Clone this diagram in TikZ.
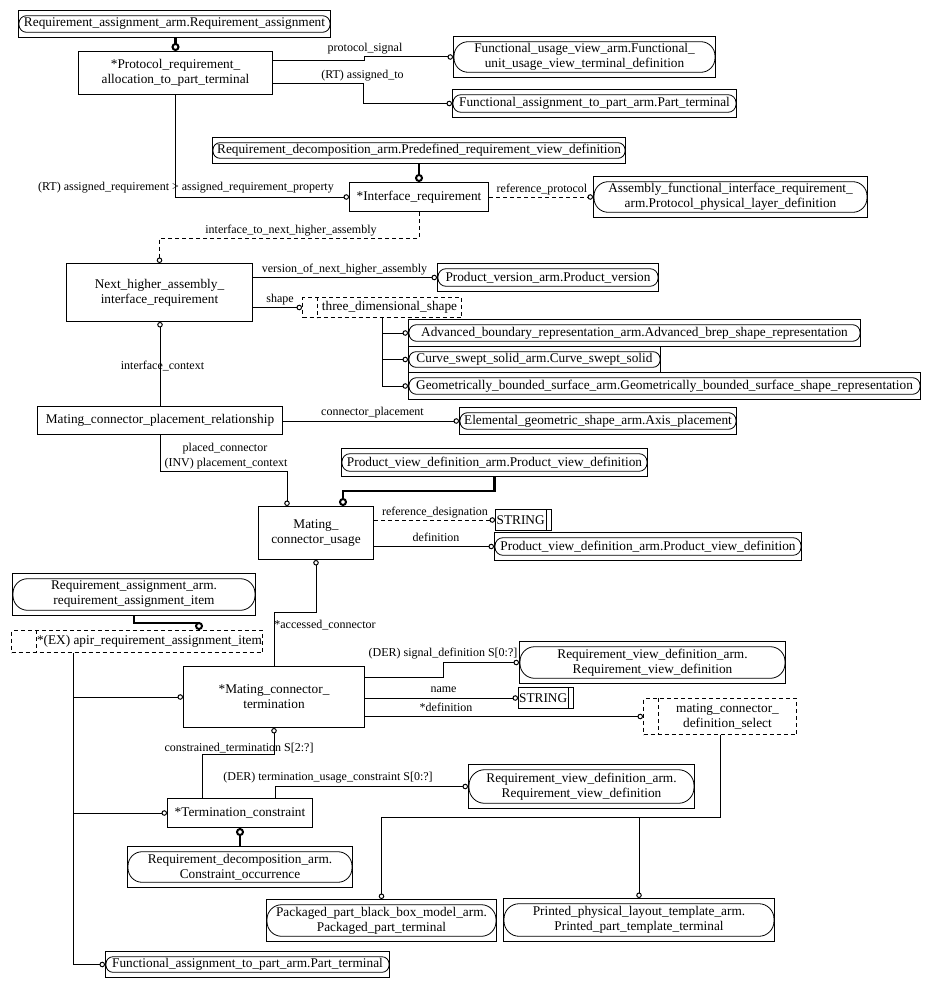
\documentclass[tikz,border=0pt]{standalone}
\usepackage{fontspec}
\setmainfont{Liberation Serif}
\usetikzlibrary{arrows.meta,calc}
\newcommand{\boxfont}{\fontsize{13.3pt}{15pt}\selectfont}
\newcommand{\lblfont}{\fontsize{12pt}{14.7pt}\selectfont}
\tikzset{
  ent/.style={draw,line width=1pt,inner sep=0pt,align=center,anchor=north west,font=\boxfont},
  selbox/.style={ent,dash pattern=on 4pt off 3pt},
  rnd/.style={line width=0.8pt},
  rel/.style={line width=1pt,-{Circle[open,length=5.5pt,width=5.5pt]}},
  relopt/.style={rel,dash pattern=on 4pt off 3pt},
  sub/.style={line width=2.6pt,-{Circle[open,length=8pt,width=8pt,line width=2pt]}},
  lbl/.style={font=\lblfont,inner sep=0pt,anchor=base},
}
% name, x, y, width, height, text
\newcommand{\extref}[6]{%
  \node[ent,minimum width=#4pt,minimum height=#5pt] (#1) at (#2,#3) {#6};
  \pgfmathsetmacro{\extrad}{(#5-11.4)*0.48}
  \draw[rnd,rounded corners=\extrad pt] ($(#1.north west)+(1,5.7)$) rectangle ($(#1.south east)+(-1,-5.7)$);}
% name, x, y, width, height, offset of inner line, text
\newcommand{\selref}[7]{%
  \node[selbox,minimum width=#4pt,minimum height=#5pt] (#1) at (#2,#3) {#7};
  \draw[line width=1pt,dash pattern=on 4pt off 3pt] ($(#1.north west)+(#6,0)$) -- ($(#1.south west)+(#6,0)$);}
% name, x, y, width, height
\newcommand{\strref}[5]{%
  \node[ent,minimum width=#4pt,minimum height=#5pt] (#1) at (#2,#3) {STRING\hspace*{5.7pt}};
  \draw[line width=1pt] ($(#1.north east)+(-5.7,0)$) -- ($(#1.south east)+(-5.7,0)$);}

\begin{document}
\begin{tikzpicture}[x=1pt,y=-1pt]
\useasboundingbox (0,0) rectangle (929,987);

% ------------------------------------------------ upper part
\extref{rasg}{18}{10}{312}{27}{Requirement\_assignment\_arm.Requirement\_assignment}
\node[ent,minimum width=194pt,minimum height=43pt] (prot) at (78,51) {*Protocol\_requirement\_\\allocation\_to\_part\_terminal};
\extref{fusv}{453}{36}{262}{41}{Functional\_usage\_view\_arm.Functional\_\\unit\_usage\_view\_terminal\_definition}
\extref{fapt}{452}{89}{284}{28}{Functional\_assignment\_to\_part\_arm.Part\_terminal}
\extref{prvd}{212}{137}{413}{26}{Requirement\_decomposition\_arm.Predefined\_requirement\_view\_definition}
\node[ent,minimum width=139pt,minimum height=29pt] (ifr) at (349,182) {*Interface\_requirement};
\extref{afir}{593}{176}{274}{41}{Assembly\_functional\_interface\_requirement\_\\arm.Protocol\_physical\_layer\_definition}

% ------------------------------------------------ next higher assembly
\node[ent,minimum width=186pt,minimum height=58pt] (nhar) at (66,263) {Next\_higher\_assembly\_\\interface\_requirement};
\extref{pv}{437}{263}{221}{28}{Product\_version\_arm.Product\_version}
\selref{tds}{302}{297}{159}{20}{15}{\hspace*{15pt}three\_dimensional\_shape}
\extref{abr}{408}{319}{452}{27}{Advanced\_boundary\_representation\_arm.Advanced\_brep\_shape\_representation}
\extref{css}{408}{346}{252}{26}{Curve\_swept\_solid\_arm.Curve\_swept\_solid}
\extref{gbs}{408}{372}{512}{27}{Geometrically\_bounded\_surface\_arm.Geometrically\_bounded\_surface\_shape\_representation}
\node[ent,minimum width=245pt,minimum height=28pt] (mcpr) at (37,406) {Mating\_connector\_placement\_relationship};
\extref{egs}{459}{407}{277}{27}{Elemental\_geometric\_shape\_arm.Axis\_placement}

% ------------------------------------------------ connector usage
\extref{pvd1}{341}{448}{306}{28}{Product\_view\_definition\_arm.Product\_view\_definition}
\node[ent,minimum width=115pt,minimum height=53pt] (mcu) at (258,506) {Mating\_\\connector\_usage};
\strref{str1}{495}{509}{56}{21}
\extref{pvd2}{494}{532}{307}{28}{Product\_view\_definition\_arm.Product\_view\_definition}

% ------------------------------------------------ termination
\extref{rasi}{12}{573}{243}{42}{Requirement\_assignment\_arm.\\requirement\_assignment\_item}
\selref{apir}{11}{630}{251}{22}{25}{\hspace*{25pt}*(EX) apir\_requirement\_assignment\_item}
\node[ent,minimum width=181pt,minimum height=61pt] (mct) at (183,666) {*Mating\_connector\_\\termination};
\extref{rvd1}{519}{641}{266}{42}{Requirement\_view\_definition\_arm.\\Requirement\_view\_definition}
\strref{str2}{518}{687}{55}{21}
\selref{mcds}{643}{698}{153}{36}{15}{\hspace*{15pt}mating\_connector\_\\\hspace*{15pt}definition\_select}
\extref{rvd2}{468}{764}{226}{44}{Requirement\_view\_definition\_arm.\\Requirement\_view\_definition}
\node[ent,minimum width=145pt,minimum height=29pt] (tc) at (167,798) {*Termination\_constraint};
\extref{co}{127}{846}{225}{41}{Requirement\_decomposition\_arm.\\Constraint\_occurrence}
\extref{ppt}{266}{899}{230}{42}{Packaged\_part\_black\_box\_model\_arm.\\Packaged\_part\_terminal}
\extref{pptt}{503}{898}{271}{43}{Printed\_physical\_layout\_template\_arm.\\Printed\_part\_template\_terminal}
\extref{fapt2}{105}{951}{284}{26}{Functional\_assignment\_to\_part\_arm.Part\_terminal}

% ------------------------------------------------ supertype links
\draw[sub] (prot.north |- rasg.south) -- (prot.north);
\draw[sub] (ifr.north |- prvd.south) -- (ifr.north);
\draw[sub] (pvd1.south) -- ++(0,14) -| ($(mcu.north west)+(85,0)$);
\draw[sub] (rasi.south) -- ++(0,7) -| ($(apir.north west)+(188,0)$);
\draw[sub] (co.north) -- (tc.south);

% ------------------------------------------------ attributes
\draw[rel] ($(prot.north east)+(0,10)$) -- ++(91,0) |- (fusv.west);
\draw[rel] ($(prot.south east)+(0,-11)$) -- ++(90,0) |- (fapt.west);
\draw[rel] (prot.south) |- (ifr.west);
\draw[relopt] (ifr.east) -- (afir.west);
\draw[relopt] (ifr.south) -- ++(0,26) -| (nhar.north);
\draw[rel] (nhar.east |- pv.west) -- (pv.west);
\draw[rel] (nhar.east |- tds.west) -- (tds.west);
\foreach \m in {abr,css,gbs} \draw[rel] (tds.south) |- (\m.west);
\draw[rel] (mcpr.north) -- (mcpr.north |- nhar.south);
\draw[rel] (mcpr.east |- egs.west) -- (egs.west);
\draw[rel] (mcpr.south) -- ++(0,36) -| ($(mcu.north west)+(29,0)$);
\draw[relopt] (mcu.east |- str1.west) -- (str1.west);
\draw[rel] (mcu.east |- pvd2.west) -- (pvd2.west);
\draw[rel] (mct.north) -- ++(0,-54) -| (mcu.south);
\foreach \m in {mct,tc,fapt2} \draw[rel] ($(apir.south west)+(62,0)$) |- (\m.west);
\draw[rel] ($(mct.north east)+(0,11)$) -- ++(78,0) |- (rvd1.west);
\draw[rel] (mct.east |- str2.west) -- (str2.west);
\draw[rel] (mct.east |- mcds.west) -- (mcds.west);
\foreach \m in {ppt,pptt} \draw[rel] (mcds.south) -- ++(0,82) -| (\m.north);
\draw[rel] ($(tc.north west)+(35,0)$) -- ++(0,-44) -| (mct.south);
\draw[rel] ($(tc.north west)+(108,0)$) |- (rvd2.west);

% ------------------------------------------------ labels
\node[lbl] (lsig) at (365,52) {protocol\_signal};
\node[lbl] (lasg) at (362.5,79) {(RT) assigned\_to};
\node[lbl] (lreq) at (186,190) {(RT) assigned\_requirement > assigned\_requirement\_property};
\node[lbl] (lref) at (542,193) {reference\_protocol};
\node[lbl] (lnext) at (291,233) {interface\_to\_next\_higher\_assembly};
\node[lbl] (lver) at (344.5,272) {version\_of\_next\_higher\_assembly};
\node[lbl] (lshp) at (280,302) {shape};
\node[lbl] (lctx) at (162.5,369) {interface\_context};
\node[lbl] (lplc) at (372.5,415) {connector\_placement};
\node[lbl] (lpc1) at (225,451) {placed\_connector};
\node[lbl] (lpc2) at (226,466) {(INV) placement\_context};
\node[lbl] (lrd) at (435,515) {reference\_designation};
\node[lbl] (ldef) at (436,541) {definition};
\node[lbl] (lacc) at (325,628) {*accessed\_connector};
\node[lbl] (lsd) at (443,656) {(DER) signal\_definition S[0:?]};
\node[lbl] (lnam) at (443.5,692) {name};
\node[lbl] (ldf2) at (446,711) {*definition};
\node[lbl] (lct) at (239,751) {constrained\_termination S[2:?]};
\node[lbl] (ltuc) at (328,780) {(DER) termination\_usage\_constraint S[0:?]};

\end{tikzpicture}
\end{document}
